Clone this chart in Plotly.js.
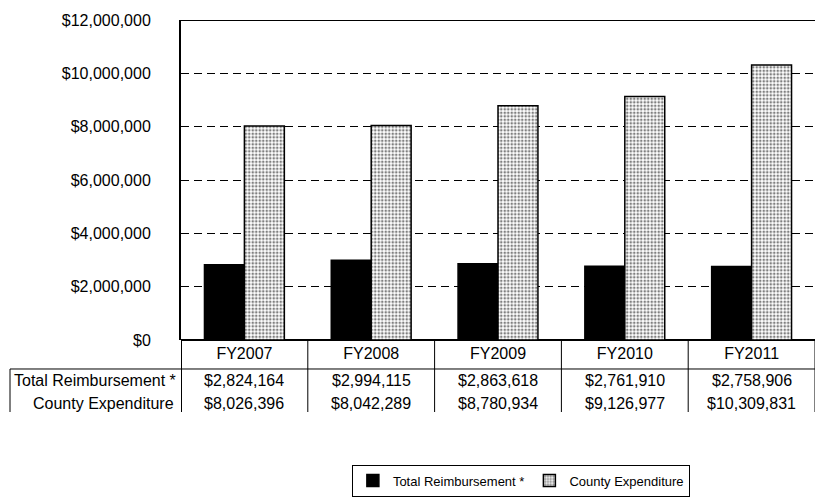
<!DOCTYPE html>
<html>
<head>
<meta charset="utf-8">
<script src="https://cdn.plot.ly/plotly-3.0.1.min.js"></script>
<style>html,body{margin:0;padding:0;background:#fff;}#chart{width:819px;height:498px;}</style>
</head>
<body>
<div id="chart"></div>
<script>
// Data
const categories = ["FY2007", "FY2008", "FY2009", "FY2010", "FY2011"];
const reimbursement = [2824164, 2994115, 2863618, 2761910, 2758906];
const expenditure = [8026396, 8042289, 8780934, 9126977, 10309831];
const seriesNames = ["Total Reimbursement *", "County Expenditure"];
const yTicks = [0, 2000000, 4000000, 6000000, 8000000, 10000000, 12000000];

const fmt = v => "$" + v.toLocaleString("en-US");

const FONT = "Liberation Sans, Arial, sans-serif";

const traces = [
  {
    type: "bar", name: seriesNames[0], x: categories, y: reimbursement,
    marker: {color: "#000", line: {color: "#000", width: 1.5}},
    hoverinfo: "skip"
  },
  {
    type: "bar", name: seriesNames[1], x: categories, y: expenditure,
    marker: {color: "#fff", line: {color: "#000", width: 1.5},
      pattern: {shape: ".", fgcolor: "#000", bgcolor: "#fff", size: 3.5, solidity: 0.45, fillmode: "overlay"}},
    hoverinfo: "skip"
  }
];

// Table geometry (paper coords)
const yRow1 = -0.128, yRow2 = -0.197, yHLine = -0.0906, yBottom = -0.225, xLeft = -0.2697;

const shapes = [];
shapes.push({type: "line", xref: "paper", yref: "y", x0: 0, x1: 1, y0: 12000000, y1: 12000000, line: {color: "#000", width: 2}});
shapes.push({type: "line", xref: "paper", yref: "paper", x0: xLeft, x1: 1, y0: yHLine, y1: yHLine, line: {color: "#000", width: 1}});
shapes.push({type: "line", xref: "paper", yref: "paper", x0: xLeft, x1: xLeft, y0: yHLine, y1: yBottom, line: {color: "#000", width: 1}});
for (let i = 0; i <= categories.length; i++) {
  shapes.push({type: "line", xref: "x", yref: "paper", x0: i - 0.5, x1: i - 0.5, y0: 0, y1: yBottom,
    line: {color: "#000", width: i === 0 ? 2 : 1}});
}

const annotations = [];
annotations.push({xref: "paper", yref: "paper", x: -0.004, y: yRow1, xanchor: "right", yanchor: "middle",
  text: seriesNames[0], showarrow: false, font: {family: FONT, size: 16, color: "#000"}});
annotations.push({xref: "paper", yref: "paper", x: -0.008, y: yRow2, xanchor: "right", yanchor: "middle",
  text: seriesNames[1], showarrow: false, font: {family: FONT, size: 16, color: "#000"}});
categories.forEach((c, i) => {
  annotations.push({xref: "x", yref: "paper", x: c, y: yRow1, xanchor: "center", yanchor: "middle",
    text: fmt(reimbursement[i]), showarrow: false, font: {family: FONT, size: 16, color: "#000"}});
  annotations.push({xref: "x", yref: "paper", x: c, y: yRow2, xanchor: "center", yanchor: "middle",
    text: fmt(expenditure[i]), showarrow: false, font: {family: FONT, size: 16, color: "#000"}});
});

const layout = {
  width: 819, height: 498,
  margin: {l: 181, r: 4, t: 20, b: 158, pad: 0, autoexpand: false},
  paper_bgcolor: "#fff", plot_bgcolor: "#fff",
  font: {family: FONT, size: 16, color: "#000"},
  barmode: "group", bargap: 0.37, bargroupgap: 0,
  showlegend: true,
  legend: {orientation: "h", xref: "container", yref: "container", x: 0.636, y: 0.035,
    xanchor: "center", yanchor: "middle",
    bordercolor: "#000", borderwidth: 1, font: {family: FONT, size: 13, color: "#000"},
    itemwidth: 30, bgcolor: "#fff"},
  xaxis: {type: "category", range: [-0.5, 4.5], showgrid: false, zeroline: false, showline: false,
    ticks: "", tickfont: {family: FONT, size: 16, color: "#000"}, ticklabelstandoff: 2, fixedrange: true, automargin: false},
  yaxis: {range: [0, 12000000], tickvals: yTicks, tickformat: "$,.0f", showgrid: true,
    gridcolor: "#000", gridwidth: 1, griddash: "8px,5px", zeroline: true, zerolinecolor: "#000", zerolinewidth: 2,
    showline: true, linecolor: "#000", linewidth: 2, ticks: "", ticklabelstandoff: 25,
    tickfont: {family: FONT, size: 16, color: "#000"}, fixedrange: true, automargin: false},
  shapes: shapes,
  annotations: annotations
};

Plotly.newPlot("chart", traces, layout, {displayModeBar: false, staticPlot: true});
</script>
</body>
</html>
